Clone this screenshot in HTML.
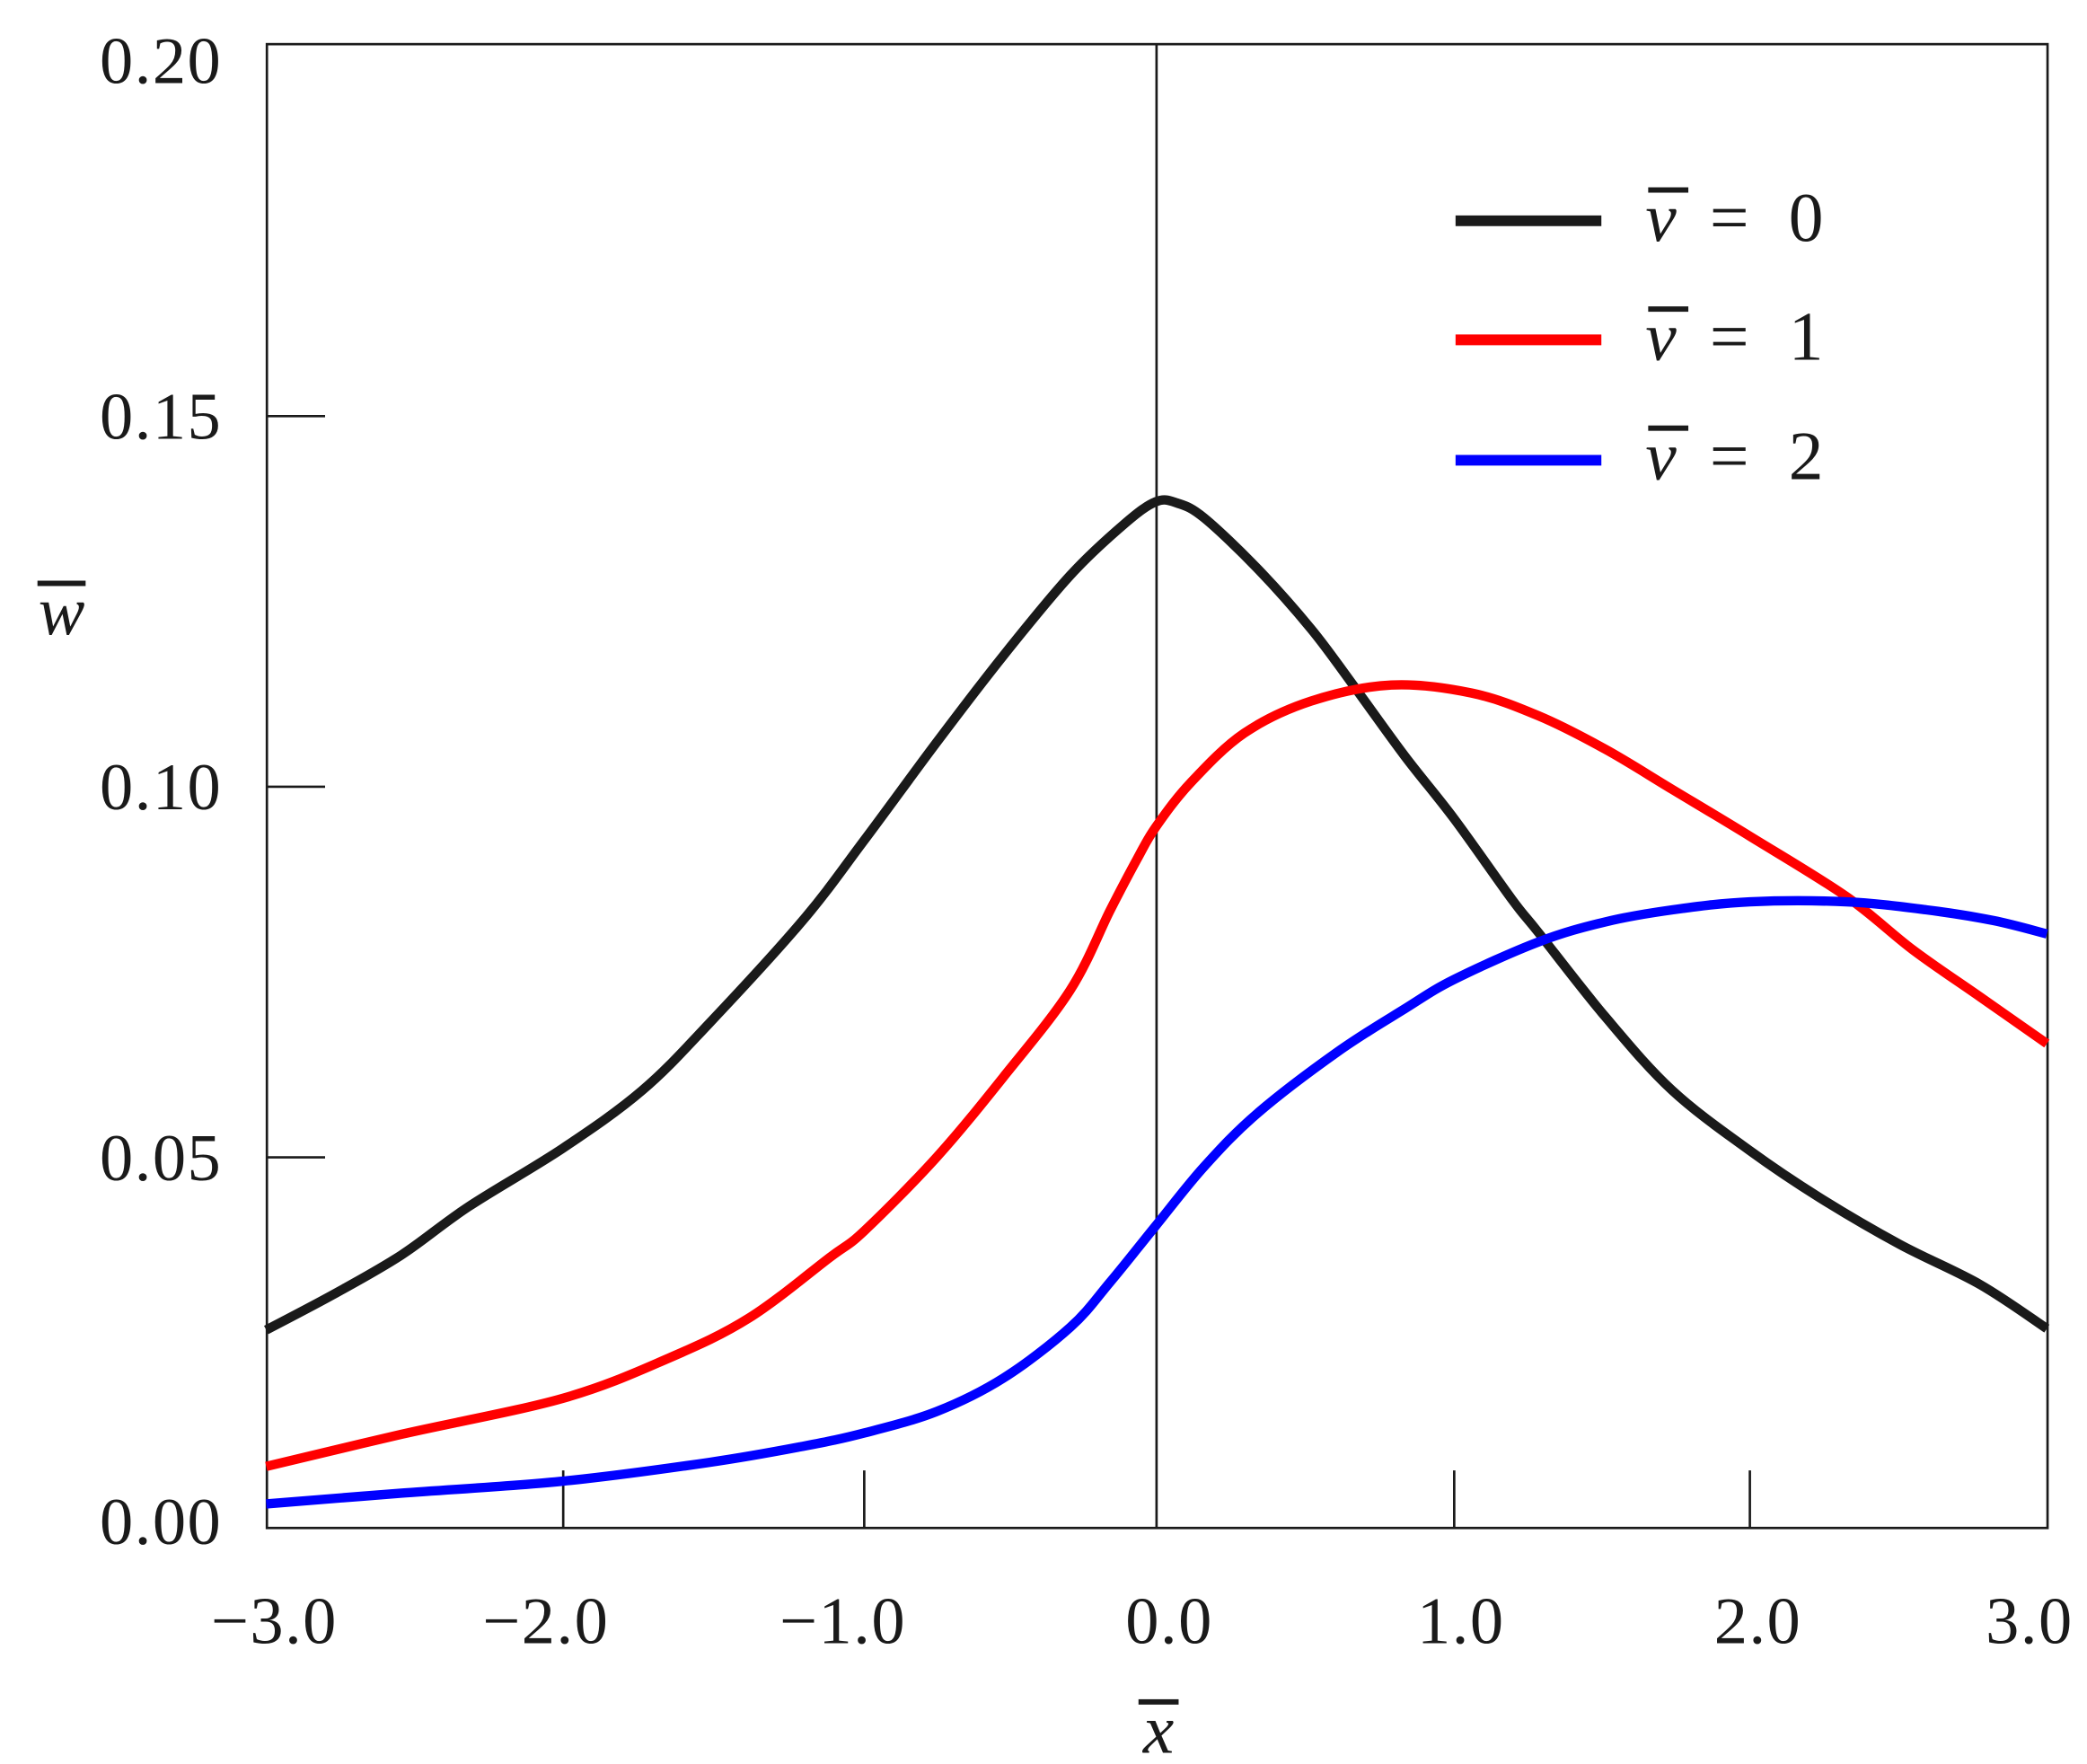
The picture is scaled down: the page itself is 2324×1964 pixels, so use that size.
<!DOCTYPE html>
<html><head><meta charset="utf-8"><style>
html,body{margin:0;padding:0;background:#fff;}
svg{display:block;}
text{font-family:"Liberation Serif",serif;fill:#1a1a1a;}
</style></head><body>
<svg width="2324" height="1964" viewBox="0 0 1560 1318.4" preserveAspectRatio="none" xmlns="http://www.w3.org/2000/svg">
<rect x="0" y="0" width="1560" height="1320" fill="#fff"/>
<g stroke="#1a1a1a" stroke-width="1.8" fill="none">
<rect x="199.5" y="33" width="1331" height="1109"/>
<line x1="864.5" y1="33" x2="864.5" y2="1142"/>
<line x1="199" y1="311" x2="243" y2="311"/>
<line x1="199" y1="588" x2="243" y2="588"/>
<line x1="199" y1="865" x2="243" y2="865"/>
<line x1="421" y1="1142" x2="421" y2="1099"/>
<line x1="646" y1="1142" x2="646" y2="1099"/>
<line x1="1087" y1="1142" x2="1087" y2="1099"/>
<line x1="1308" y1="1142" x2="1308" y2="1099"/>
</g>
<g font-size="50" text-anchor="end" letter-spacing="1">
<text x="166" y="62">0.20</text>
<text x="166" y="328">0.15</text>
<text x="166" y="605">0.10</text>
<text x="166" y="882">0.05</text>
<text x="166" y="1154">0.00</text>
</g>
<g font-size="50" text-anchor="middle" letter-spacing="1">
<text x="205" y="1228">−3.0</text>
<text x="408" y="1228">−2.0</text>
<text x="630" y="1228">−1.0</text>
<text x="874" y="1228">0.0</text>
<text x="1092" y="1228">1.0</text>
<text x="1314" y="1228">2.0</text>
<text x="1517" y="1228">3.0</text>
</g>
<text x="46" y="474" font-size="52" font-style="italic" text-anchor="middle">w</text>
<rect x="28" y="434" width="36" height="4" fill="#1a1a1a"/>
<text x="866" y="1310" font-size="52" font-style="italic" text-anchor="middle">x</text>
<rect x="851" y="1270" width="30" height="4" fill="#1a1a1a"/>
<g fill="none" stroke-width="7" stroke-linejoin="round" stroke-linecap="butt">
<polyline class="s" stroke="#1a1a1a" points="199,994 250,967 300,938 350,902 421,858 480,815 530,765 600,688 646,628 700,555 750,490 800,430 840,392 864,375 880,376 900,387 940,425 980,470 1010,510 1050,565 1087,612 1130,672 1150,697 1200,760 1250,815 1308,860 1360,895 1420,930 1480,960 1530,993"/>
<polyline class="s" stroke="#ff0000" points="199,1096 300,1072 421,1045 500,1015 560,985 620,940 646,920 700,865 750,805 800,740 830,680 850,642 864,618 890,585 930,548 980,524 1040,512 1100,518 1150,535 1200,560 1250,590 1308,625 1380,670 1430,710 1480,745 1530,780"/>
<polyline class="s" stroke="#0000ff" points="199,1124 300,1116 421,1107 530,1093 600,1081 646,1071 700,1055 750,1030 800,992 830,958 864,916 900,872 940,832 1000,786 1050,754 1087,732 1150,704 1200,689 1250,680 1308,674 1380,674 1440,680 1490,688 1530,698"/>
</g>
<g stroke-width="8">
<line x1="1088" y1="165" x2="1197" y2="165" stroke="#1a1a1a"/>
<line x1="1088" y1="254" x2="1197" y2="254" stroke="#ff0000"/>
<line x1="1088" y1="344" x2="1197" y2="344" stroke="#0000ff"/>
</g>
<g font-size="52">
<text x="1230" y="180"><tspan font-style="italic">v</tspan><tspan x="1278">=</tspan><tspan x="1337">0</tspan></text>
<text x="1230" y="269"><tspan font-style="italic">v</tspan><tspan x="1278">=</tspan><tspan x="1337">1</tspan></text>
<text x="1230" y="358"><tspan font-style="italic">v</tspan><tspan x="1278">=</tspan><tspan x="1337">2</tspan></text>
</g>
<g fill="#1a1a1a">
<rect x="1232" y="140" width="30" height="4"/>
<rect x="1232" y="229" width="30" height="4"/>
<rect x="1232" y="318" width="30" height="4"/>
</g>
</svg>
<script>
document.querySelectorAll('polyline.s').forEach(function(pl){
  var p=pl.getAttribute('points').trim().split(/\s+/).map(function(s){return s.split(',').map(Number);});
  var d='M'+p[0][0]+','+p[0][1];
  for(var i=0;i<p.length-1;i++){
    var p0=p[i>0?i-1:i],p1=p[i],p2=p[i+1],p3=p[i+2<p.length?i+2:i+1];
    var c1x=p1[0]+(p2[0]-p0[0])/6,c1y=p1[1]+(p2[1]-p0[1])/6;
    var c2x=p2[0]-(p3[0]-p1[0])/6,c2y=p2[1]-(p3[1]-p1[1])/6;
    d+=' C'+c1x+','+c1y+' '+c2x+','+c2y+' '+p2[0]+','+p2[1];
  }
  var path=document.createElementNS('http://www.w3.org/2000/svg','path');
  path.setAttribute('d',d);
  path.setAttribute('stroke',pl.getAttribute('stroke'));
  pl.parentNode.replaceChild(path,pl);
});
</script>
</body></html>
